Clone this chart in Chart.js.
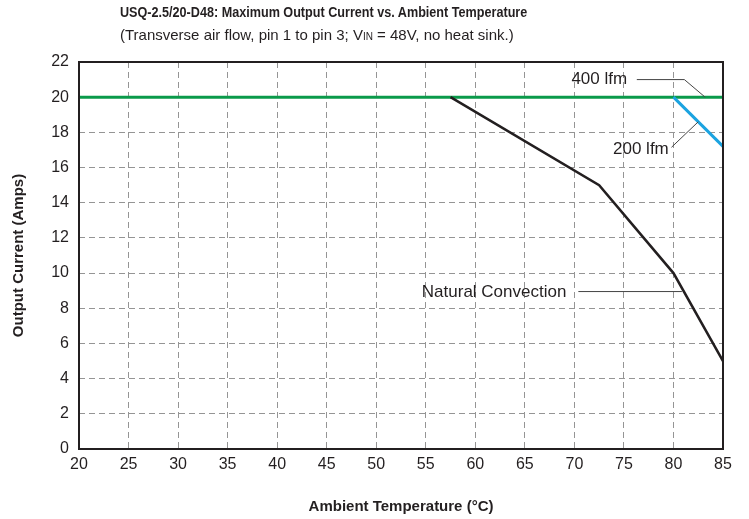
<!DOCTYPE html>
<html>
<head>
<meta charset="utf-8">
<script src="https://cdn.jsdelivr.net/npm/chart.js@4.4.1/dist/chart.umd.min.js"></script>
<style>
  html, body { margin: 0; padding: 0; background: #fff; }
  #wrap { position: relative; width: 749px; height: 519px; font-family: "Liberation Sans", Arial, sans-serif; color: #231f20; }
  #title { position: absolute; left: 120px; top: 4px; font-size: 14.5px; font-weight: bold; white-space: nowrap; transform: scaleX(0.87); transform-origin: left top; }
  #subtitle { position: absolute; left: 120px; top: 26px; font-size: 15px; white-space: nowrap; }
  #subtitle .sc { font-size: 10px; }
  canvas { position: absolute; left: 0; top: 0; }
</style>
</head>
<body>
<div id="wrap">
  <canvas id="derating" width="749" height="519"></canvas>
  <div id="title">USQ-2.5/20-D48: Maximum Output Current vs. Ambient Temperature</div>
  <div id="subtitle">(Transverse air flow, pin 1 to pin 3; V<span class="sc">IN</span> = 48V, no heat sink.)</div>
</div>
<script>
// derating curves, temperature (°C) -> current (A)
const lfm400 = [{ x: 20, y: 20 }, { x: 85, y: 20 }];
const lfm200 = [{ x: 80, y: 20 }, { x: 85, y: 17.2 }];
const naturalConv = [{ x: 57.5, y: 20 }, { x: 72.5, y: 15 }, { x: 80, y: 10 }, { x: 85, y: 5 }];

const xTicks = [20, 25, 30, 35, 40, 45, 50, 55, 60, 65, 70, 75, 80, 85];
const yTicks = [0, 2, 4, 6, 8, 10, 12, 14, 16, 18, 20, 22];

// callout labels: text anchor + leader line, in data units
const callouts = [
  { text: '400 lfm', at: [69.7, 21.0], line: [[76.3, 21.0], [81.1, 21.0], [83.2, 20]] },
  { text: '200 lfm', at: [73.9, 17.05], line: [[79.8, 17.15], [82.5, 18.6]] },
  { text: 'Natural Convection', at: [54.6, 8.9], line: [[70.4, 8.95], [80.85, 8.95]] }
];

const ink = '#231f20';
const tickFont = { family: '"Liberation Sans", Arial, sans-serif', size: 16 };
const titleFont = { family: '"Liberation Sans", Arial, sans-serif', size: 15, weight: 'bold' };

const frameAndCallouts = {
  id: 'frameAndCallouts',
  afterDatasetsDraw(chart) {
    const { ctx, chartArea: a, scales: { x, y } } = chart;
    ctx.save();
    // plot frame
    ctx.strokeStyle = ink;
    ctx.lineWidth = 2;
    ctx.strokeRect(a.left, a.top, a.right - a.left, a.bottom - a.top);
    // callouts
    ctx.font = '17px "Liberation Sans", Arial, sans-serif';
    ctx.fillStyle = ink;
    ctx.textBaseline = 'middle';
    ctx.textAlign = 'left';
    ctx.lineWidth = 1;
    ctx.strokeStyle = '#444';
    callouts.forEach(c => {
      ctx.fillText(c.text, x.getPixelForValue(c.at[0]), y.getPixelForValue(c.at[1]));
      ctx.beginPath();
      c.line.forEach((p, i) => {
        const px = x.getPixelForValue(p[0]), py = y.getPixelForValue(p[1]);
        if (i === 0) ctx.moveTo(px, py); else ctx.lineTo(px, py);
      });
      ctx.stroke();
    });
    ctx.restore();
  }
};

new Chart(document.getElementById('derating'), {
  type: 'line',
  data: {
    datasets: [
      { label: 'Natural Convection', data: naturalConv, borderColor: ink, borderWidth: 2.5 },
      { label: '200 lfm', data: lfm200, borderColor: '#1ba3e0', borderWidth: 3 },
      { label: '400 lfm', data: lfm400, borderColor: '#0a9a4a', borderWidth: 3 }
    ]
  },
  options: {
    responsive: false,
    animation: false,
    events: [],
    elements: { point: { radius: 0 }, line: { tension: 0, borderCapStyle: 'butt' } },
    layout: { padding: { left: 0, top: 62, right: 26, bottom: 0 } },
    plugins: { legend: { display: false }, tooltip: { enabled: false } },
    scales: {
      x: {
        type: 'linear', min: 20, max: 85,
        afterBuildTicks: s => { s.ticks = xTicks.map(v => ({ value: v })); },
        afterFit: s => { s.height = 70; },
        ticks: { color: ink, font: tickFont, padding: 6, maxRotation: 0 },
        grid: { color: '#959595', lineWidth: 1, drawTicks: false },
        border: { display: false, dash: [6, 4] },
        title: { display: true, text: 'Ambient Temperature (°C)', color: ink, font: titleFont, padding: { top: 4, bottom: 3 } }
      },
      y: {
        type: 'linear', min: 0, max: 22,
        afterBuildTicks: s => { s.ticks = yTicks.map(v => ({ value: v })); },
        afterFit: s => { s.width = 79; },
        ticks: { color: ink, font: tickFont, padding: 10 },
        grid: { color: '#959595', lineWidth: 1, drawTicks: false },
        border: { display: false, dash: [6, 4] },
        title: { display: true, text: 'Output Current (Amps)', color: ink, font: titleFont, padding: { top: 10, bottom: 4 } }
      }
    }
  },
  plugins: [frameAndCallouts]
});
</script>
</body>
</html>
